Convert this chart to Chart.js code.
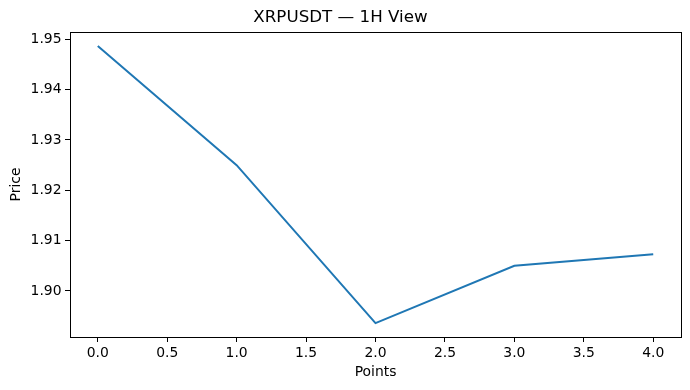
<!DOCTYPE html>
<html>
<head>
<meta charset="utf-8">
<script src="https://cdn.jsdelivr.net/npm/chart.js@4.4.1/dist/chart.umd.min.js"></script>
<style>
  html, body { margin: 0; padding: 0; background: #fff; }
  canvas { display: block; }
</style>
</head>
<body>
<canvas id="chart" width="690" height="390"></canvas>
<script>
// datos
const puntos = [0, 1, 2, 3, 4];
const precios = [1.9487, 1.9250, 1.8936, 1.9050, 1.9073];
const xTicks = [0, 0.5, 1, 1.5, 2, 2.5, 3, 3.5, 4];
const yTicks = [1.90, 1.91, 1.92, 1.93, 1.94, 1.95];

// margenes tipo matplotlib (5%)
const yMinData = Math.min(...precios), yMaxData = Math.max(...precios);
const yMargin = (yMaxData - yMinData) * 0.05;
const xMargin = (puntos[puntos.length - 1] - puntos[0]) * 0.05;

const fuente = "'DejaVu Sans', sans-serif";

// marco completo alrededor del area del grafico
const marco = {
    id: 'marco',
    afterDraw(chart) {
        const { ctx, chartArea: a } = chart;
        ctx.save();
        ctx.strokeStyle = '#000';
        ctx.lineWidth = 1;
        ctx.strokeRect(Math.round(a.left) + 0.5, Math.round(a.top) + 0.5,
            Math.round(a.right - a.left), Math.round(a.bottom - a.top));
        ctx.restore();
    }
};

new Chart(document.getElementById('chart'), {
    type: 'line',
    data: {
        datasets: [{
            label: 'Price',
            data: puntos.map((x, i) => ({ x: x, y: precios[i] })),
            borderColor: '#1f77b4',
            borderWidth: 2,
            pointRadius: 0,
            tension: 0,
            fill: false
        }]
    },
    options: {
        responsive: false,
        animation: false,
        devicePixelRatio: 1,
        layout: { padding: { left: 0, right: 9, top: 0, bottom: 0 } },
        plugins: {
            legend: { display: false },
            tooltip: { enabled: false },
            title: {
                display: true,
                text: 'XRPUSDT — 1H View',
                color: '#000',
                font: { family: fuente, size: 16.7, weight: 'normal' },
                padding: { top: 8, bottom: 4 }
            }
        },
        scales: {
            x: {
                type: 'linear',
                min: puntos[0] - xMargin,
                max: puntos[puntos.length - 1] + xMargin,
                afterBuildTicks: (scale) => { scale.ticks = xTicks.map(v => ({ value: v })); },
                afterFit: (scale) => { scale.height = 53; },
                grid: { drawOnChartArea: false, drawTicks: true, tickLength: 5, color: '#000' },
                border: { display: false },
                ticks: {
                    color: '#000',
                    padding: 3,
                    maxRotation: 0,
                    font: { family: fuente, size: 13.9 },
                    callback: (v) => Number(v).toFixed(1)
                },
                title: {
                    display: true,
                    text: 'Points',
                    color: '#000',
                    font: { family: fuente, size: 13.9 },
                    padding: { top: 0, bottom: 9.7 }
                }
            },
            y: {
                type: 'linear',
                min: yMinData - yMargin,
                max: yMaxData + yMargin,
                afterBuildTicks: (scale) => { scale.ticks = yTicks.map(v => ({ value: v })); },
                afterFit: (scale) => { scale.width = 70; },
                grid: { drawOnChartArea: false, drawTicks: true, tickLength: 5, color: '#000' },
                border: { display: false },
                ticks: {
                    color: '#000',
                    padding: 3.5,
                    font: { family: fuente, size: 13.9 },
                    callback: (v) => Number(v).toFixed(2)
                },
                title: {
                    display: true,
                    text: 'Price',
                    color: '#000',
                    font: { family: fuente, size: 13.9 },
                    padding: { top: 8.3, bottom: 0 }
                }
            }
        }
    },
    plugins: [marco]
});
</script>
</body>
</html>
